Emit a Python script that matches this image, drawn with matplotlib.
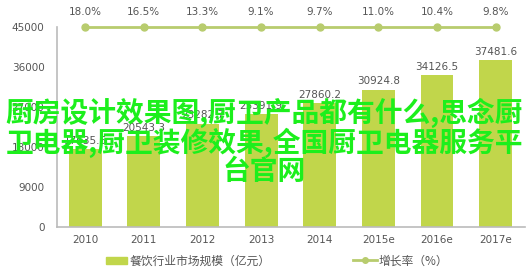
import matplotlib
matplotlib.use("Agg")
import matplotlib.pyplot as plt
from matplotlib.patches import Patch
from matplotlib.lines import Line2D

plt.rcParams['font.family'] = ['Noto Sans CJK SC', 'DejaVu Sans']

# data
years = ['2010', '2011', '2012', '2013', '2014', '2015e', '2016e', '2017e']
market = [17635.6, 20543.3, 23282.7, 25391.9, 27860.2, 30924.8, 34126.5, 37481.6]
growth = [18.0, 16.5, 13.3, 9.1, 9.7, 11.0, 10.4, 9.8]
yticks = [0, 9000, 18000, 27000, 36000, 45000]
line_level = 45000  # growth line is drawn flat along the top of the chart

bar_color = '#c1d64b'
line_color = '#b8cc6e'
text_color = '#555555'

fig = plt.figure(figsize=(5.29, 2.77), dpi=100)
ax = fig.add_axes([57/529, 50/277, 468/529, 200/277])

x = list(range(len(years)))
ax.bar(x, market, width=0.56, color=bar_color, zorder=2)
for xi, v in zip(x, market):
    ax.text(xi, v + 700, f'{v:.1f}', ha='center', va='bottom', fontsize=7.5,
            color=text_color, family='DejaVu Sans')

ax.plot(x, [line_level] * len(x), color=line_color, lw=2, marker='o',
        markersize=5, zorder=3, clip_on=False)
for xi, g in zip(x, growth):
    ax.text(xi, line_level + 2200, f'{g:.1f}%', ha='center', va='bottom',
            fontsize=7.5, color=text_color, family='DejaVu Sans')

ax.set_xlim(-0.48, 7.5)
ax.set_ylim(0, 45000)
ax.set_xticks(x)
ax.set_xticklabels(years, fontsize=7.5, color=text_color, family='DejaVu Sans')
ax.set_yticks(yticks)
ax.set_yticklabels([str(t) for t in yticks], fontsize=7.5, color=text_color,
                   family='DejaVu Sans')
ax.tick_params(length=0, pad=9)
ax.tick_params(axis='x', pad=6)
for s in ['top', 'right']:
    ax.spines[s].set_visible(False)
for s in ['left', 'bottom']:
    ax.spines[s].set_color('#bbbbbb')
    ax.spines[s].set_linewidth(1.2)

# legends
h1 = Patch(color=bar_color)
fig.legend([h1], ['餐饮行业市场规模（亿元）'], loc='center left',
           bbox_to_anchor=(100/529, 16/277), frameon=False, fontsize=8.5,
           handlelength=1.8, handleheight=0.5, handletextpad=0.2,
           borderpad=0, labelcolor=text_color)
h2 = Line2D([], [], color=line_color, lw=2, marker='o', markersize=4)
fig.legend([h2], ['增长率（%）'], loc='center left',
           bbox_to_anchor=(347/529, 16/277), frameon=False, fontsize=8.5,
           handlelength=2.0, handletextpad=0.2, borderpad=0,
           labelcolor=text_color)

# green overlay text from the picture
overlay = '厨房设计效果图,厨卫产品都有什么,思念厨\n卫电器,厨卫装修效果,全国厨卫电器服务平\n台官网'
fig.text(264/529, 1 - 142/277, overlay, ha='center', va='center', fontsize=20,
         color='#1cef1c', fontweight='bold', linespacing=0.98, zorder=10)

fig.savefig('out.png', dpi=100)
